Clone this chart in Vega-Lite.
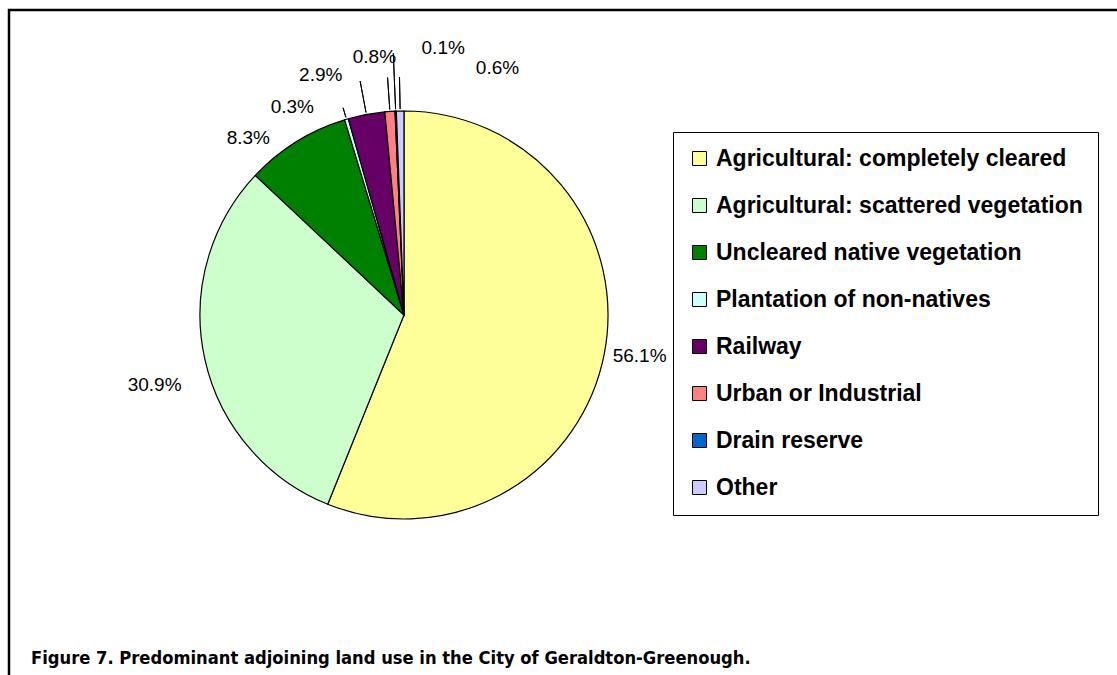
{
  "$schema": "https://vega.github.io/schema/vega-lite/v6.json",
  "width": 1200,
  "height": 800,
  "autosize": {"type": "none"},
  "padding": {"left": 9, "top": 10, "right": 0, "bottom": 0},
  "background": "white",
  "view": {"stroke": "black", "strokeWidth": 2.5},
  "title": {
    "text": "Figure 7. Predominant adjoining land use in the City of Geraldton-Greenough.",
    "orient": "top", "anchor": "start", "frame": "group", "offset": 0,
    "dx": 22, "dy": 672, "baseline": "alphabetic",
    "font": "DejaVu Sans Condensed", "fontSize": 18.2, "fontWeight": "bold", "color": "black"
  },
  "data": {
    "values": [
      {"category": "Agricultural: completely cleared", "pct": 0.561, "idx": 1},
      {"category": "Agricultural: scattered vegetation", "pct": 0.309, "idx": 2},
      {"category": "Uncleared native vegetation", "pct": 0.083, "idx": 3},
      {"category": "Plantation of non-natives", "pct": 0.003, "idx": 4},
      {"category": "Railway", "pct": 0.029, "idx": 5},
      {"category": "Urban or Industrial", "pct": 0.008, "idx": 6},
      {"category": "Drain reserve", "pct": 0.001, "idx": 7},
      {"category": "Other", "pct": 0.006, "idx": 8}
    ]
  },
  "encoding": {
    "theta": {"field": "pct", "type": "quantitative", "stack": true},
    "order": {"field": "idx", "type": "quantitative"},
    "x": {"value": 395},
    "y": {"value": 305}
  },
  "layer": [
    {
      "mark": {"type": "arc", "outerRadius": 204, "stroke": "black", "strokeWidth": 1.2},
      "encoding": {
        "color": {
          "field": "category", "type": "nominal",
          "scale": {
            "domain": ["Agricultural: completely cleared", "Agricultural: scattered vegetation", "Uncleared native vegetation", "Plantation of non-natives", "Railway", "Urban or Industrial", "Drain reserve", "Other"],
            "range": ["#FFFF99", "#CCFFCC", "#008000", "#CCFFFF", "#660066", "#FF8080", "#0066CC", "#CCCCFF"]
          },
          "legend": {
            "title": null, "orient": "none", "legendX": 664, "legendY": 122,
            "direction": "vertical", "symbolType": "square", "symbolSize": 196,
            "symbolStrokeColor": "black", "symbolStrokeWidth": 1,
            "labelFont": "Liberation Sans", "labelFontSize": 23, "labelFontWeight": "bold",
            "labelColor": "black", "rowPadding": 23, "padding": 15,
            "strokeColor": "black", "labelOffset": 5, "labelLimit": 600
          }
        }
      }
    },
    {
      "mark": {"type": "arc", "innerRadius": 206, "outerRadius": 216, "padAngle": 0.2, "filled": false, "stroke": "black", "strokeWidth": 1},
      "encoding": {"strokeOpacity": {"condition": {"test": "datum.idx === 4", "value": 1}, "value": 0}}
    },
    {
      "mark": {"type": "arc", "innerRadius": 206, "outerRadius": 238, "padAngle": 0.2, "filled": false, "stroke": "black", "strokeWidth": 1},
      "encoding": {"strokeOpacity": {"condition": {"test": "datum.idx === 5 || datum.idx === 6 || datum.idx === 8", "value": 1}, "value": 0}}
    },
    {
      "mark": {"type": "arc", "innerRadius": 206, "outerRadius": 262, "padAngle": 0.2, "filled": false, "stroke": "black", "strokeWidth": 1},
      "encoding": {"strokeOpacity": {"condition": {"test": "datum.idx === 7", "value": 1}, "value": 0}}
    },
    {"mark": {"type": "text", "radius": 240, "font": "Liberation Sans", "fontSize": 19, "color": "black", "dx": 0, "dy": -5},
     "encoding": {"text": {"condition": {"test": "datum.idx === 1", "field": "pct", "type": "quantitative", "format": ".1%"}, "value": ""}}},
    {"mark": {"type": "text", "radius": 240, "font": "Liberation Sans", "fontSize": 19, "color": "black", "dx": -15, "dy": 18},
     "encoding": {"text": {"condition": {"test": "datum.idx === 2", "field": "pct", "type": "quantitative", "format": ".1%"}, "value": ""}}},
    {"mark": {"type": "text", "radius": 240, "font": "Liberation Sans", "fontSize": 19, "color": "black", "dx": -29, "dy": 27},
     "encoding": {"text": {"condition": {"test": "datum.idx === 3", "field": "pct", "type": "quantitative", "format": ".1%"}, "value": ""}}},
    {"mark": {"type": "text", "radius": 240, "font": "Liberation Sans", "fontSize": 19, "color": "black", "dx": -44, "dy": 22},
     "encoding": {"text": {"condition": {"test": "datum.idx === 4", "field": "pct", "type": "quantitative", "format": ".1%"}, "value": ""}}},
    {"mark": {"type": "text", "radius": 240, "font": "Liberation Sans", "fontSize": 19, "color": "black", "dx": -39, "dy": -4},
     "encoding": {"text": {"condition": {"test": "datum.idx === 5", "field": "pct", "type": "quantitative", "format": ".1%"}, "value": ""}}},
    {"mark": {"type": "text", "radius": 240, "font": "Liberation Sans", "fontSize": 19, "color": "black", "dx": -13, "dy": -19},
     "encoding": {"text": {"condition": {"test": "datum.idx === 6", "field": "pct", "type": "quantitative", "format": ".1%"}, "value": ""}}},
    {"mark": {"type": "text", "radius": 240, "font": "Liberation Sans", "fontSize": 19, "color": "black", "dx": 49, "dy": -27},
     "encoding": {"text": {"condition": {"test": "datum.idx === 7", "field": "pct", "type": "quantitative", "format": ".1%"}, "value": ""}}},
    {"mark": {"type": "text", "radius": 240, "font": "Liberation Sans", "fontSize": 19, "color": "black", "dx": 98, "dy": -7},
     "encoding": {"text": {"condition": {"test": "datum.idx === 8", "field": "pct", "type": "quantitative", "format": ".1%"}, "value": ""}}}
  ]
}
